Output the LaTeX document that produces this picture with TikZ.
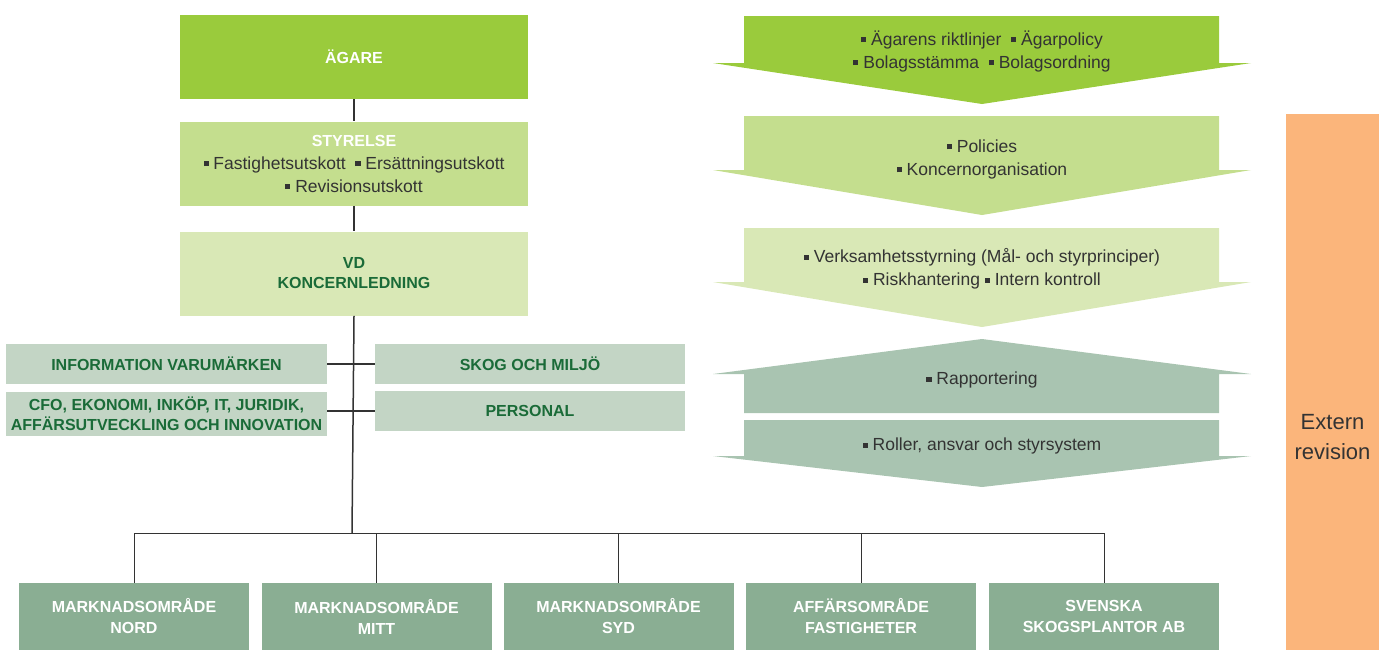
\documentclass[tikz,border=0pt]{standalone}
\usepackage{fontspec}
\setmainfont{Liberation Sans}
\usetikzlibrary{positioning}
\definecolor{ownergreen}{HTML}{9ACB3C}
\definecolor{boardgreen}{HTML}{C4DE8E}
\definecolor{palegreen}{HTML}{D9E8B6}
\definecolor{staffgrey}{HTML}{C3D5C5}
\definecolor{reportgreen}{HTML}{A9C4B1}
\definecolor{areagreen}{HTML}{8AAE93}
\definecolor{auditorange}{HTML}{FBB57B}
\definecolor{darkgreen}{HTML}{1A6B38}
\definecolor{textgrey}{HTML}{333333}
\newcommand\sqbullet{\rule[0.3ex]{0.55ex}{0.55ex}\ }
\tikzset{every picture/.style={x=0.5pt,y=-0.5pt},
  box/.style={rectangle,inner sep=0pt,align=center,font=\fontsize{8}{10}\selectfont\bfseries},
  headbox/.style={box,minimum width=174pt,minimum height=42pt},
  staffbox/.style={box,fill=staffgrey,text=darkgreen,minimum width=160.5pt,minimum height=20pt},
  areabox/.style={box,fill=areagreen,text=white,minimum width=115pt,minimum height=33.5pt,font=\fontsize{8}{10.5}\selectfont\bfseries},
  bodytext/.style={align=center,inner sep=0pt,text=textgrey,font=\fontsize{8.75}{11.5}\selectfont},
  link/.style={draw=textgrey,line width=0.75pt},
  thinlink/.style={draw=textgrey,line width=0.5pt}}

\begin{document}
\begin{tikzpicture}
          \useasboundingbox (0,0) rectangle (1379,650);

          \node[headbox,fill=ownergreen,text=white] (agare) at (354,57){ÄGARE};
          \node[headbox,fill=boardgreen,bodytext] (styrelse) at (354,163.5){{\fontsize{8}{10}\selectfont\bfseries\color{white}STYRELSE}\\\sqbullet Fastighetsutskott\ \ \sqbullet Ersättningsutskott\\\sqbullet Revisionsutskott};
          \node[headbox,fill=palegreen,text=darkgreen] (vd) at (354,273.5){VD\\KONCERNLEDNING};

          \node[staffbox] (info) at (166.5,364){INFORMATION VARUMÄRKEN};
          \node[staffbox,minimum height=22pt] (cfo) at (166.5,414){CFO, EKONOMI, INKÖP, IT, JURIDIK,\\AFFÄRSUTVECKLING OCH INNOVATION};
          \node[staffbox,minimum width=155pt] (skog) at (530,364){SKOG OCH MILJÖ};
          \node[staffbox,minimum width=155pt] (personal) at (530,411){PERSONAL};

          \coordinate (bus) at (352,533);
          \node[areabox] (nord) at (134,616.5){MARKNADSOMRÅDE\\NORD};
          \node[areabox] (mitt) at (376.5,616.5){MARKNADSOMRÅDE\\MITT};
          \node[areabox] (syd) at (618.5,616.5){MARKNADSOMRÅDE\\SYD};
          \node[areabox] (fastigheter) at (861,616.5){AFFÄRSOMRÅDE\\FASTIGHETER};
          \node[areabox] (plantor) at (1104,616.5){SVENSKA\\SKOGSPLANTOR AB};

          \node[rectangle,fill=auditorange,minimum width=46.5pt,minimum height=268pt] (revision) at (1332.5,382){};
          \node[align=center,inner sep=0pt,text=textgrey,font=\fontsize{11}{15}\selectfont] (revisiontext) at (1332.5,437){Extern\\revision};

          \fill[ownergreen] (744,16) -- (1219,16) -- (1219,63) -- (1251,63) -- (982,104) -- (713,63) -- (744,63) -- cycle;
          \fill[boardgreen] (744,116) -- (1219,116) -- (1219,170) -- (1251,170) -- (982,215) -- (713,170) -- (744,170) -- cycle;
          \fill[palegreen] (744,228) -- (1219,228) -- (1219,282) -- (1251,282) -- (982,327) -- (713,282) -- (744,282) -- cycle;
          \fill[reportgreen] (982,339) -- (1251,374) -- (1219,374) -- (1219,413) -- (744,413) -- (744,374) -- (713,374) -- cycle;
          \fill[reportgreen] (744,420) -- (1219,420) -- (1219,456) -- (1251,456) -- (982,487) -- (713,456) -- (744,456) -- cycle;

          \node[bodytext] (owners) at (982,51){\sqbullet Ägarens riktlinjer\ \ \sqbullet Ägarpolicy\\\sqbullet Bolagsstämma\ \ \sqbullet Bolagsordning};
          \node[bodytext] (policies) at (982,159){\sqbullet Policies\\\sqbullet Koncernorganisation};
          \node[bodytext] (steering) at (982,269){\sqbullet Verksamhetsstyrning (Mål- och styrprinciper)\\\sqbullet Riskhantering \sqbullet Intern kontroll};
          \node[bodytext] (reporting) at (982,380){\sqbullet Rapportering};
          \node[bodytext] (roles) at (982,446){\sqbullet Roller, ansvar och styrsystem};

          \draw[link](agare)--(styrelse);
          \draw[link](styrelse)--(vd);
          \draw[link](vd.south)--(bus);
          \draw[link](info.east)--(skog.west);
          \draw[link](personal.west)--(personal.west -| cfo.east);
          \draw[thinlink](nord.north |- bus)--(plantor.north |- bus);
          \draw[thinlink](nord.north |- bus)--(nord.north);
          \draw[thinlink](mitt.north |- bus)--(mitt.north);
          \draw[thinlink](syd.north |- bus)--(syd.north);
          \draw[thinlink](fastigheter.north |- bus)--(fastigheter.north);
          \draw[thinlink](plantor.north |- bus)--(plantor.north);

        \end{tikzpicture}
\end{document}
